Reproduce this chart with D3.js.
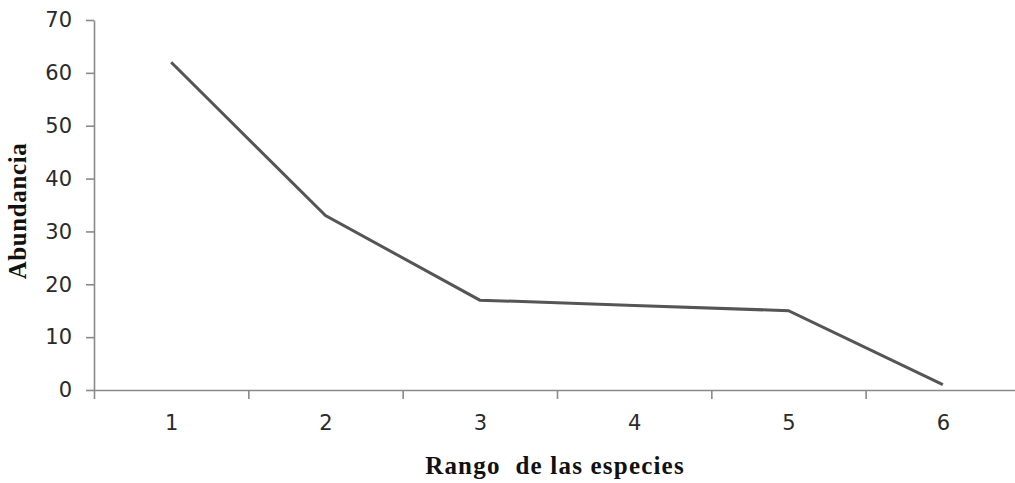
<!DOCTYPE html>
<html><head><meta charset="utf-8">
<script src="https://cdn.jsdelivr.net/npm/d3@7"></script>
<style>body{margin:0;background:#fff}svg{display:block}</style>
</head><body>
<script>
const ranks = [1, 2, 3, 4, 5, 6];
const abundance = [62, 33, 17, 16, 15, 1];
const yTicks = [0, 10, 20, 30, 40, 50, 60, 70];
const xTitle = "Rango  de las especies";
const yTitle = "Abundancia";

const W = 1015, H = 483;
const svg = d3.select("body").append("svg").attr("width", W).attr("height", H);
const x = d3.scaleLinear().domain([0.5, 6.5]).range([94, 1020]);
const y = d3.scaleLinear().domain([0, 70]).range([390, 20]);

const axisColor = "#8a8a8a";
// y axis
const gy = svg.append("g").attr("transform", "translate(94,0)")
  .call(d3.axisLeft(y).tickValues(yTicks).tickSize(8).tickPadding(14).tickSizeOuter(0));
gy.selectAll("text").attr("font-family", "DejaVu Sans").attr("font-size", 21).attr("fill", "#2a2a2a");
// x axis boundary ticks
const bounds = d3.range(0.5, 7, 1);
const gx = svg.append("g").attr("transform", "translate(0,390)")
  .call(d3.axisBottom(x).tickValues(bounds).tickSize(9).tickFormat("").tickSizeOuter(0));
// x labels
const gxl = svg.append("g").attr("transform", "translate(0,390)")
  .call(d3.axisBottom(x).tickValues(ranks).tickSize(0).tickPadding(25).tickFormat(d3.format("d")));
gxl.select(".domain").remove();
gxl.selectAll("text").attr("font-family", "DejaVu Sans").attr("font-size", 21).attr("fill", "#2a2a2a");
[gy, gx].forEach(g => {
  g.selectAll(".domain").attr("stroke", axisColor).attr("stroke-width", 1.6);
  g.selectAll(".tick line").attr("stroke", axisColor).attr("stroke-width", 1.6);
});

// line
svg.append("path")
  .datum(ranks.map((r, i) => [r, abundance[i]]))
  .attr("fill", "none").attr("stroke", "#555").attr("stroke-width", 3)
  .attr("d", d3.line().x(d => x(d[0])).y(d => y(d[1])));

// titles
svg.append("text").attr("x", 555).attr("y", 474).attr("text-anchor", "middle")
  .attr("font-family", "Liberation Serif").attr("font-weight", "bold").attr("font-size", 25)
  .attr("letter-spacing", 1.2)
  .attr("fill", "#111").attr("xml:space", "preserve").text(xTitle);
svg.append("text").attr("transform", "translate(26,211) rotate(-90)").attr("text-anchor", "middle")
  .attr("font-family", "Liberation Serif").attr("font-weight", "bold").attr("font-size", 25)
  .attr("letter-spacing", 0.6)
  .attr("fill", "#111").text(yTitle);
</script>
</body></html>
